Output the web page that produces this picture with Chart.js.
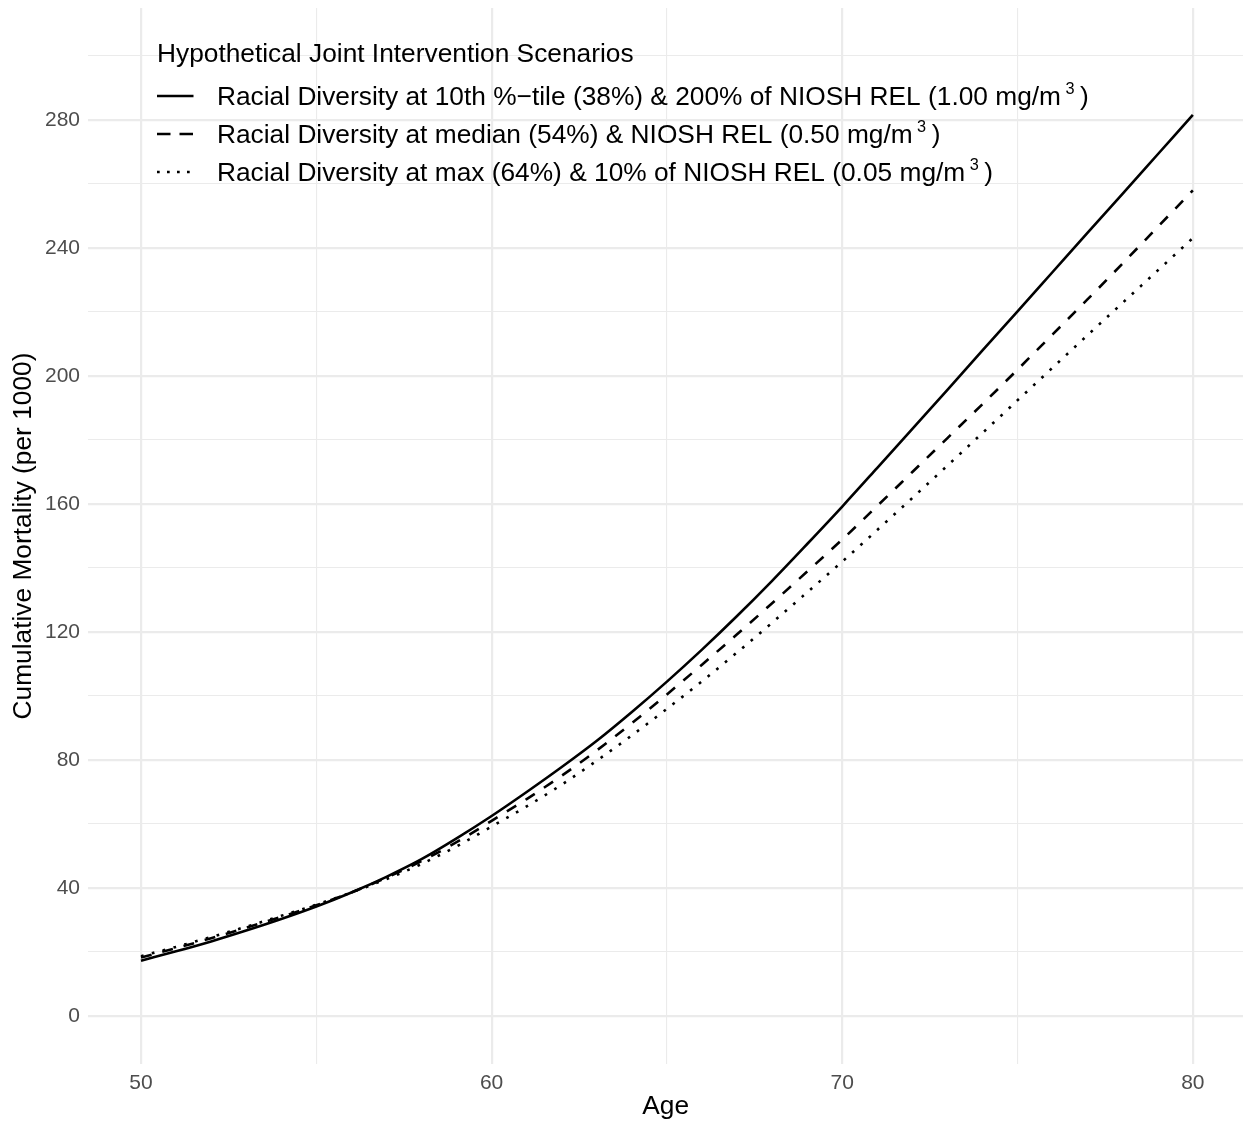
<!DOCTYPE html>
<html>
<head>
<meta charset="utf-8">
<script src="https://cdn.jsdelivr.net/npm/chart.js@4.4.1/dist/chart.umd.min.js"></script>
<style>
  html, body { margin: 0; padding: 0; background: #ffffff; }
  #wrap { width: 1243px; height: 1121px; }
</style>
</head>
<body>
<div id="wrap"><canvas id="c" width="1243" height="1121"></canvas></div>
<script>
// Age (years) and cumulative mortality per 1000 under three joint scenarios
const ages = [50,51,52,53,54,55,56,57,58,59,60,61,62,63,64,65,66,67,68,69,70,71,72,73,74,75,76,77,78,79,80];

const tenthPctile200 = [17.3,20.2,23.3,26.7,30.3,34.2,38.6,43.5,49.0,55.5,62.5,70.0,77.8,86.0,95.0,104.5,114.5,125.0,136.0,147.5,159.2,171.3,183.5,195.7,208.0,220.2,232.5,244.8,257.0,269.3,281.6];
const medianRel = [18.3,21.2,24.3,27.6,31.0,34.6,38.6,43.2,48.4,54.3,61.0,67.8,75.1,83.0,91.5,100.5,109.8,119.3,129.0,138.9,148.9,159.4,170.0,180.6,191.2,202.0,213.0,224.0,235.2,246.6,258.0];
const maxTenthRel = [18.7,21.6,24.7,27.9,31.3,34.8,38.6,42.8,47.5,53.0,59.2,65.5,72.3,79.8,87.7,96.0,104.6,113.6,122.9,132.4,142.0,151.9,161.9,172.0,182.2,192.4,202.6,212.8,222.9,233.0,243.1];

const legendTitle = 'Hypothetical Joint Intervention Scenarios';
const seriesText = [
  ['Racial Diversity at 10th %\u2212tile (38%) & 200% of NIOSH REL (1.00 mg/m', '3', ')'],
  ['Racial Diversity at median (54%) & NIOSH REL (0.50 mg/m', '3', ')'],
  ['Racial Diversity at max (64%) & 10% of NIOSH REL (0.05 mg/m', '3', ')']
];

const xTickValues = [50,55,60,65,70,75,80];
const xMajor = [50,60,70,80];
const yTickValues = [0,20,40,60,80,100,120,140,160,180,200,220,240,260,280,300];
const yMajor = [0,40,80,120,160,200,240,280];

const FONT = '"Liberation Sans", Arial, Helvetica, sans-serif';
const TEXT_PX = 26.3;
const TICK_PX = 21;
const dashStyles = [[], [11, 11], [2.7, 8.5]];
const keyDash = [[], [13.5, 9], [2.7, 7.3]];

const toPoints = arr => ages.map((a, i) => ({ x: a, y: arr[i] }));
const seriesValues = [tenthPctile200, medianRel, maxTenthRel];

// Legend drawn inside the panel, top-left
const legendInside = {
  id: 'legendInside',
  afterDraw(chart) {
    const ctx = chart.ctx;
    ctx.save();
    ctx.fillStyle = '#000';
    ctx.textBaseline = 'alphabetic';
    ctx.textAlign = 'left';
    ctx.font = TEXT_PX + 'px ' + FONT;
    ctx.fillText(legendTitle, 157, 62);
    const rowsY = [96, 134, 172];
    seriesText.forEach((parts, i) => {
      const y = rowsY[i];
      ctx.beginPath();
      ctx.setLineDash(keyDash[i]);
      ctx.lineWidth = 2.6;
      ctx.lineCap = 'butt';
      ctx.strokeStyle = '#000';
      ctx.moveTo(157, y);
      ctx.lineTo(193.5, y);
      ctx.stroke();
      ctx.setLineDash([]);
      const base = y + 9.2;
      let x = 217;
      ctx.font = TEXT_PX + 'px ' + FONT;
      ctx.fillText(parts[0], x, base);
      x += ctx.measureText(parts[0]).width + 4.5;
      ctx.font = '16.3px ' + FONT;
      ctx.fillText(parts[1], x, base - 11.5);
      x += ctx.measureText(parts[1]).width + 5.5;
      ctx.font = TEXT_PX + 'px ' + FONT;
      ctx.fillText(parts[2], x, base);
    });
    ctx.restore();
  }
};

new Chart(document.getElementById('c'), {
  type: 'line',
  data: {
    datasets: seriesValues.map((vals, i) => ({
      label: seriesText[i].join(''),
      data: toPoints(vals),
      borderColor: '#000000',
      backgroundColor: '#000000',
      borderWidth: 2.6,
      borderDash: dashStyles[i],
      borderCapStyle: 'butt',
      pointRadius: 0,
      fill: false,
      cubicInterpolationMode: 'monotone'
    }))
  },
  options: {
    responsive: false,
    animation: false,
    devicePixelRatio: 1,
    layout: { padding: { top: 8, right: 0, bottom: 0, left: 0 } },
    plugins: { legend: { display: false }, tooltip: { enabled: false } },
    scales: {
      x: {
        type: 'linear',
        min: 48.5,
        max: 81.43,
        afterBuildTicks: s => { s.ticks = xTickValues.map(v => ({ value: v })); },
        afterFit: s => { s.height = 57; s.paddingLeft = 0; s.paddingRight = 0; },
        border: { display: false },
        grid: {
          color: '#EBEBEB',
          drawTicks: false,
          lineWidth: c => (c.tick && xMajor.includes(c.tick.value)) ? 2.2 : 1.1
        },
        ticks: {
          autoSkip: false,
          maxRotation: 0,
          padding: 7,
          color: '#4D4D4D',
          font: { family: FONT, size: TICK_PX },
          callback: v => xMajor.includes(v) ? String(v) : ''
        },
        title: {
          display: true,
          text: 'Age',
          color: '#000000',
          font: { family: FONT, size: TEXT_PX },
          padding: { top: 0, bottom: -2 }
        }
      },
      y: {
        type: 'linear',
        min: -15,
        max: 315,
        afterBuildTicks: s => { s.ticks = yTickValues.map(v => ({ value: v })); },
        afterFit: s => { s.width = 88.4; s.paddingTop = 0; s.paddingBottom = 0; },
        border: { display: false },
        grid: {
          color: '#EBEBEB',
          drawTicks: false,
          lineWidth: c => (c.tick && yMajor.includes(c.tick.value)) ? 2.2 : 1.1
        },
        ticks: {
          autoSkip: false,
          padding: 8.4,
          color: '#4D4D4D',
          font: { family: FONT, size: TICK_PX },
          callback: v => yMajor.includes(v) ? String(v) : ''
        },
        title: {
          display: true,
          text: 'Cumulative Mortality (per 1000)',
          color: '#000000',
          font: { family: FONT, size: TEXT_PX },
          padding: { top: 8.4, bottom: 0 }
        }
      }
    }
  },
  plugins: [legendInside]
});
</script>
</body>
</html>
